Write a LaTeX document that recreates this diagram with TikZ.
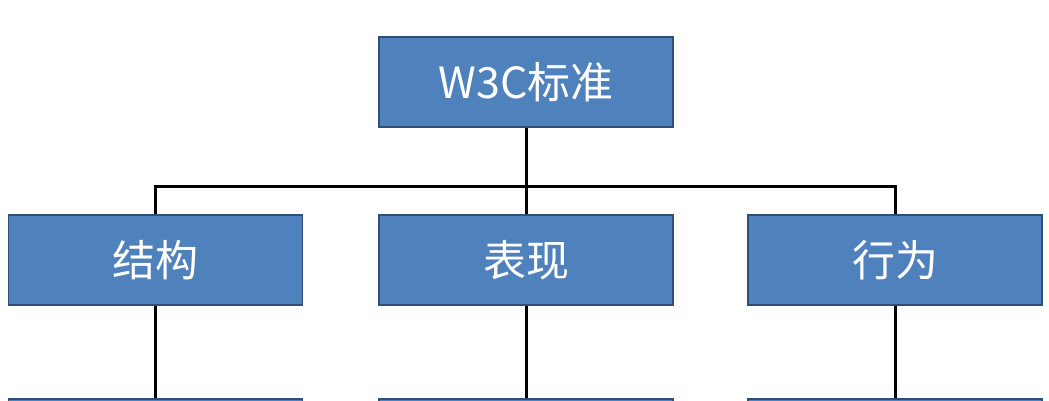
\documentclass[tikz,border=0pt]{standalone}
\usepackage{fontspec}
\setmainfont{Noto Sans CJK SC}
\definecolor{boxfill}{HTML}{4F81BD}
\definecolor{boxedge}{HTML}{2F4F78}
\begin{document}
\begin{tikzpicture}[x=1pt,y=-1pt,
  blk/.style={draw=boxedge, line width=1.5pt, fill=boxfill, minimum width=294pt, minimum height=90pt, inner sep=0pt, text=white, font=\fontsize{43}{43}\selectfont},
  conn/.style={line width=3pt, black}]
\useasboundingbox (0,0) rectangle (1049,400);
\clip (0,0) rectangle (1049,400);
\fill[white] (0,0) rectangle (1049,400);
\node[blk] (top) at (526,82) {W3C标准};
\node[blk] (l) at (155.5,260) {结构};
\node[blk] (m) at (526,260) {表现};
\node[blk] (r) at (895,260) {行为};
\node[blk, anchor=north] (bl) at (155.5,398) {};
\node[blk, anchor=north] (bm) at (526,398) {};
\node[blk, anchor=north] (br) at (895,398) {};
\coordinate (bus) at (526,186);
\draw[conn] (top.south) -- (m.north);
\draw[conn] (l.north) |- (bus) -| (r.north);
\draw[conn] (l.south) -- (bl.north);
\draw[conn] (m.south) -- (bm.north);
\draw[conn] (r.south) -- (br.north);
\end{tikzpicture}
\end{document}
